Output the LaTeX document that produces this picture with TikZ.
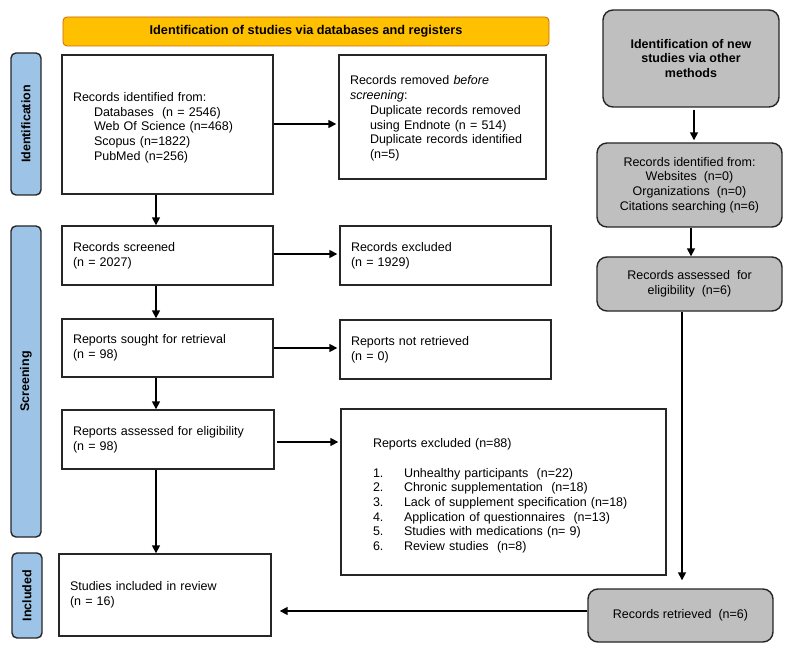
\documentclass[tikz,border=0pt]{standalone}
\usepackage{fontspec}
\setmainfont{Liberation Sans}
\usetikzlibrary{arrows.meta}
\definecolor{bandorange}{HTML}{FFC000}
\definecolor{bandblue}{HTML}{9DC3E6}
\definecolor{boxgray}{HTML}{BFBFBF}
\definecolor{linedark}{HTML}{262626}
\begin{document}
\begin{tikzpicture}[x=1pt,y=-1pt,
  every node/.style={font=\fontsize{12.5}{14.7}\selectfont, text=black},
  wbox/.style={draw=linedark, line width=1.4pt, fill=white, rectangle, align=left, inner xsep=11pt, inner ysep=0pt},
  gbox/.style={draw=linedark, line width=1.4pt, fill=boxgray, rectangle, rounded corners=10pt, align=center, inner sep=0pt},
  phase/.style={draw=linedark, line width=1.4pt, fill=bandblue, rectangle, rounded corners=5pt, inner sep=0pt},
  phasetext/.style={rotate=90, font=\fontsize{12.5}{14}\selectfont\bfseries},
  arr/.style={draw=black, line width=1.6pt, -{Triangle[length=8pt,width=8pt]}}
]
\useasboundingbox (0,0) rectangle (792,652);

% banner
\node[draw=orange!80!black, line width=0.8pt, fill=bandorange, rounded corners=4pt, minimum width=486pt, minimum height=29pt, inner sep=0pt, font=\fontsize{12.7}{14}\selectfont\bfseries] (banner) at (306,31.5) {Identification of studies via databases and registers};

% phase bars
\node[phase, minimum width=30pt, minimum height=142pt] (phid) at (26,124) {};
\node[phasetext] (phidt) at (phid.center) {Identification};
\node[phase, minimum width=30pt, minimum height=311pt] (phsc) at (26,381.5) {};
\node[phasetext] (phsct) at (phsc.center) {Screening};
\node[phase, minimum width=30pt, minimum height=85pt] (phin) at (27,595.5) {};
\node[phasetext] (phint) at (phin.center) {Included};

% left column
\node[wbox, text width=189pt, minimum height=139pt] (ident) at (167.5,124.5) {\rule{0pt}{15pt}Records identified from:\\
\hspace*{21pt}Databases\ \ (n = 2546)\\
\hspace*{21pt}Web Of Science (n=468)\\
\hspace*{21pt}Scopus (n=1822)\\
\hspace*{21pt}PubMed (n=256)};

\node[wbox, text width=185pt, minimum height=124pt] (removed) at (442.5,117) {\rule{0pt}{12pt}Records removed \textit{before}\\
\textit{screening}:\\
\hspace*{20pt}Duplicate records removed\\
\hspace*{20pt}using Endnote (n = 514)\\
\hspace*{20pt}Duplicate records identified\\
\hspace*{20pt}(n=5)};

\node[wbox, text width=189pt, minimum height=59pt] (screened) at (167.5,255.5) {Records screened\\(n = 2027)};
\node[wbox, text width=189pt, minimum height=59pt] (excluded) at (445.5,255.5) {Records excluded\\(n = 1929)};

\node[wbox, text width=189pt, minimum height=58pt] (sought) at (167.5,348) {Reports sought for retrieval\\(n = 98)};
\node[wbox, text width=189pt, minimum height=59pt] (notret) at (445.5,349.5) {Reports not retrieved\\(n = 0)};

\node[wbox, text width=190pt, minimum height=59pt] (assessed) at (168,439.5) {Reports assessed for eligibility\\(n = 98)};
\node[wbox, inner xsep=0pt, text width=325pt, minimum height=166pt] (repexcl) at (503.5,492) {%
\hspace*{32pt}\rule{0pt}{17pt}Reports excluded (n=88)\\[14.5pt]
\hspace*{32pt}\makebox[31pt][l]{1.}Unhealthy participants\ \ (n=22)\\
\hspace*{32pt}\makebox[31pt][l]{2.}Chronic supplementation\ \ (n=18)\\
\hspace*{32pt}\makebox[31pt][l]{3.}Lack of supplement specification (n=18)\\
\hspace*{32pt}\makebox[31pt][l]{4.}Application of questionnaires\ \ (n=13)\\
\hspace*{32pt}\makebox[31pt][l]{5.}Studies with medications (n= 9)\\
\hspace*{32pt}\makebox[31pt][l]{6.}Review studies\ \ (n=8)};

\node[wbox, text width=190pt, minimum height=82pt] (included) at (165,595) {Studies included in review\\(n = 16)};

% right column
\node[gbox, minimum width=176pt, minimum height=97pt, font=\fontsize{12.5}{14.4}\selectfont\bfseries] (other) at (691,58.5) {Identification of new\\studies via other\\methods};
\node[gbox, minimum width=185pt, minimum height=84pt] (ridf) at (689.5,185) {Records identified from:\\Websites\ \ (n=0)\\Organizations\ \ (n=0)\\Citations searching (n=6)};
\node[gbox, minimum width=185pt, minimum height=54pt] (rass) at (689.5,284) {Records assessed\ \ for\\eligibility\ \ (n=6)};
\node[gbox, minimum width=185pt, minimum height=53pt] (rret) at (680.5,615.5) {Records retrieved\ \ (n=6)};

% helper coordinates
\coordinate (lx) at (156,0);
\coordinate (ox) at (694,0);
\coordinate (rx) at (691,0);
\coordinate (ax) at (682,0);
\coordinate (y1) at (0,124);
\coordinate (y2) at (0,254);
\coordinate (y3) at (0,348);
\coordinate (y4) at (0,442);
\coordinate (y5) at (0,611);

% connectors left column
\draw[arr] (ident.south -| lx) -- (screened.north -| lx);
\draw[arr] (screened.south -| lx) -- (sought.north -| lx);
\draw[arr] (sought.south -| lx) -- (assessed.north -| lx);
\draw[arr] (assessed.south -| lx) -- (included.north -| lx);
\draw[arr, shorten >=2pt] (ident.east |- y1) -- (removed.west |- y1);
\draw[arr, shorten >=2pt] (screened.east |- y2) -- (excluded.west |- y2);
\draw[arr, shorten >=2pt] (sought.east |- y3) -- (notret.west |- y3);
\draw[arr, shorten <=2pt, shorten >=2pt] (assessed.east |- y4) -- (repexcl.west |- y4);

% connectors right column
\draw[arr, shorten <=2pt, shorten >=2pt] (other.south -| ox) -- (ridf.north -| ox);
\draw[arr, shorten >=0pt] (ridf.south -| rx) -- (rass.north -| rx);
\draw[arr, shorten >=8pt] (rass.south -| ax) -- (rret.north -| ax);
\draw[arr, shorten >=8pt] (rret.west |- y5) -- (included.east |- y5);
\end{tikzpicture}
\end{document}
